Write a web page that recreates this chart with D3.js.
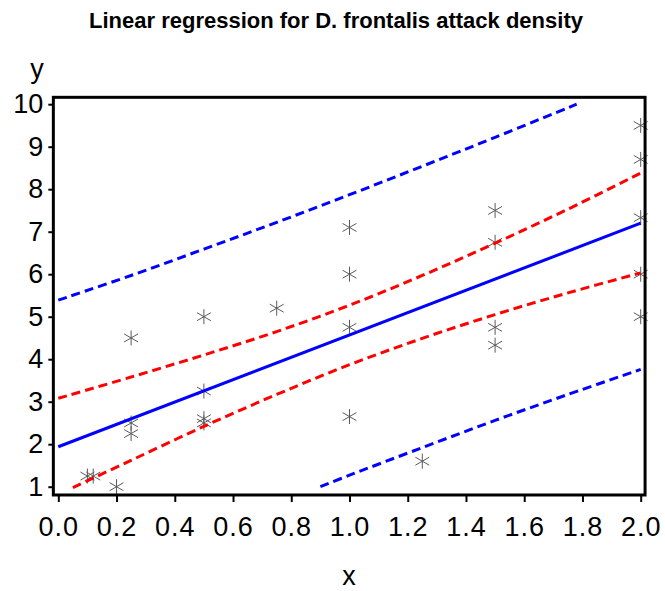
<!DOCTYPE html>
<html><head><meta charset="utf-8">
<script src="https://cdn.jsdelivr.net/npm/d3@7"></script>
<style>body{margin:0;background:#fff}svg{display:block}</style>
</head><body>
<svg id="c" width="665" height="591"></svg>
<script>
// Observations
const xPts = [0.1,0.12,0.2,0.25,0.25,0.25,0.5,0.5,0.5,0.5,0.75,1,1,1,1,1.25,1.5,1.5,1.5,1.5,2,2,2,2,2];
const yPts = [1.25,1.25,1.0,4.5,2.5,2.25,5.0,3.25,2.6,2.5,5.2,7.1,6.0,4.75,2.65,1.6,7.5,6.75,4.75,4.33,9.5,8.7,7.33,6.0,5.0];
// Fitted line
const fitX = [0, 2];
const fitY = [1.94, 7.2];
// Confidence limits (red)
const confUpperX = [0,0.25,0.5,0.75,1,1.25,1.5,1.75,2];
const confUpperY = [3.08,3.58,4.10,4.65,5.27,5.97,6.73,7.53,8.38];
const confLowerX = [0.05,0.25,0.5,0.75,1,1.25,1.5,1.75,2];
const confLowerY = [0.98,1.62,2.42,3.17,3.87,4.49,5.05,5.56,6.03];
// Prediction limits (blue)
const predUpperX = [0,0.25,0.5,0.75,1,1.25,1.5,1.78];
const predUpperY = [5.39,5.97,6.59,7.22,7.87,8.54,9.22,10.0];
const predLowerX = [0.9,1,1.25,1.5,1.75,2];
const predLowerY = [1.0,1.27,1.92,2.56,3.17,3.76];
// Ticks
const xTicks = [0,0.2,0.4,0.6,0.8,1.0,1.2,1.4,1.6,1.8,2.0];
const yTicks = [1,2,3,4,5,6,7,8,9,10];

const svg = d3.select("#c");
const x = d3.scaleLinear().domain([0,2]).range([58.3,640.7]);
const y = d3.scaleLinear().domain([1,10]).range([486.7,104.2]);
const xLo=-0.017, xHi=2.015, yLo=0.805, yHi=10.162;

// Title
svg.append("text").attr("x",336).attr("y",28).attr("text-anchor","middle")
  .attr("font-family","Liberation Sans, Arial, sans-serif").attr("font-weight","bold")
  .attr("font-size",22).text("Linear regression for D. frontalis attack density");

const zip = (a,b)=>a.map((v,i)=>[v,b[i]]);
const line = d3.line().x(d=>x(d[0])).y(d=>y(d[1])).curve(d3.curveCatmullRom.alpha(0.5));

const g = svg.append("g");
// points
const star = g.append("g").attr("stroke","#5a5a5a").attr("stroke-width",1).attr("fill","none");
zip(xPts,yPts).forEach(([a,b])=>{
  const cx=x(a), cy=y(b), r=8, dx=r*Math.cos(Math.PI/6), dy=r*Math.sin(Math.PI/6);
  star.append("path").attr("d",
    `M${cx},${cy-7.5}L${cx},${cy+7.5}M${cx-dx},${cy-dy}L${cx+dx},${cy+dy}M${cx-dx},${cy+dy}L${cx+dx},${cy-dy}`);
});

g.append("path").attr("d",line(zip(predUpperX,predUpperY))).attr("fill","none")
  .attr("stroke","#0000ff").attr("stroke-width",3).attr("stroke-dasharray","9,5");
g.append("path").attr("d",line(zip(predLowerX,predLowerY))).attr("fill","none")
  .attr("stroke","#0000ff").attr("stroke-width",3).attr("stroke-dasharray","9,5");
g.append("path").attr("d",line(zip(confUpperX,confUpperY))).attr("fill","none")
  .attr("stroke","#ff0000").attr("stroke-width",3).attr("stroke-dasharray","9,5");
g.append("path").attr("d",line(zip(confLowerX,confLowerY))).attr("fill","none")
  .attr("stroke","#ff0000").attr("stroke-width",3).attr("stroke-dasharray","9,5");
g.append("path").attr("d",d3.line().x(d=>x(d[0])).y(d=>y(d[1]))(zip(fitX,fitY))).attr("fill","none")
  .attr("stroke","#0000ff").attr("stroke-width",3);

// frame
svg.append("rect").attr("x",x(xLo)).attr("y",y(yHi)).attr("width",x(xHi)-x(xLo))
  .attr("height",y(yLo)-y(yHi)).attr("fill","none").attr("stroke","#000").attr("stroke-width",3);

// axes
const xa = svg.append("g").attr("transform",`translate(0,${y(yLo)})`)
  .call(d3.axisBottom(x).tickValues(xTicks).tickFormat(d3.format(".1f")).tickSize(7).tickSizeOuter(0).tickPadding(15));
const ya = svg.append("g").attr("transform",`translate(${x(xLo)},0)`)
  .call(d3.axisLeft(y).tickValues(yTicks).tickFormat(d3.format("d")).tickSize(5).tickSizeOuter(0).tickPadding(5));
[xa,ya].forEach(a=>{
  a.select(".domain").remove();
  a.selectAll(".tick line").attr("stroke","#000").attr("stroke-width",2);
  a.selectAll(".tick text").attr("fill","#000").attr("font-size",27)
   .attr("font-family","Liberation Sans, Arial, sans-serif");
});
xa.selectAll(".tick text").attr("letter-spacing","1px");

svg.append("text").attr("x",349).attr("y",585).attr("text-anchor","middle")
  .attr("font-family","Liberation Sans, Arial, sans-serif").attr("font-size",27).text("x");
svg.append("text").attr("x",37).attr("y",78).attr("text-anchor","middle")
  .attr("font-family","Liberation Sans, Arial, sans-serif").attr("font-size",27).text("y");
</script>
</body></html>
